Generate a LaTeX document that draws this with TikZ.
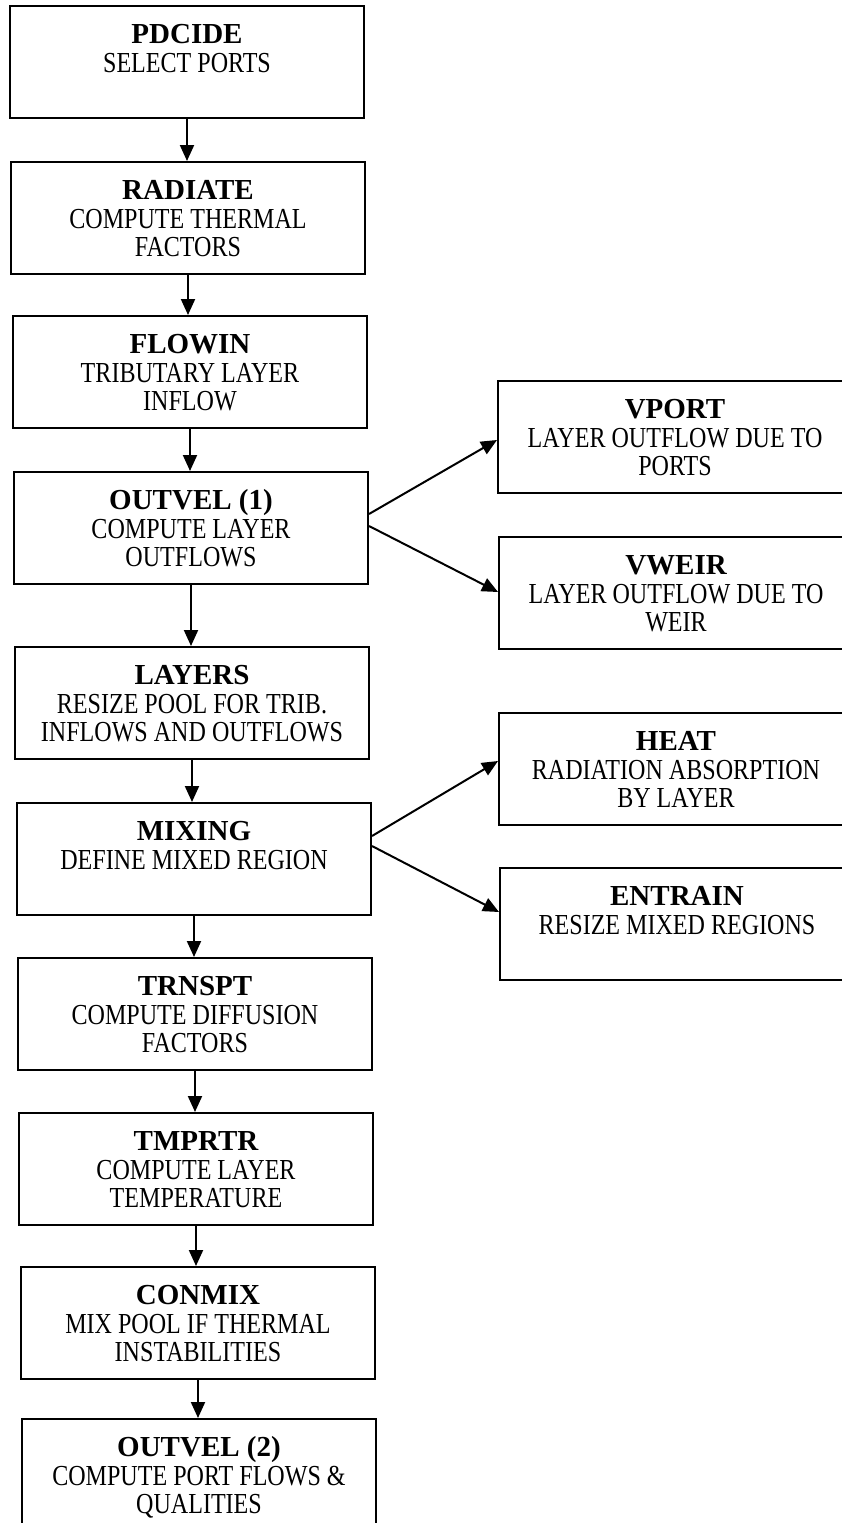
\documentclass[tikz,border=0pt]{standalone}
\usepackage{fontspec}
\setmainfont{Liberation Serif}
\newfontfamily\subfont{Liberation Serif}[FakeStretch=0.83]
\usetikzlibrary{arrows.meta}
\tikzset{
  boxst/.style={draw=black, line width=2pt, fill=white, minimum width=354pt, minimum height=112pt, inner sep=0pt},
  titlest/.style={anchor=base, inner sep=0pt, font=\fontsize{29}{29}\selectfont\bfseries},
  subst/.style={anchor=base, inner sep=0pt, font=\subfont\fontsize{29}{29}\selectfont},
  arr/.style={line width=2pt, -{Triangle[length=16pt,width=14pt]}}
}
\newcommand\pbox[6]{%
  \node[boxst, anchor=north west] (#1) at (#2,#3) {};
  \node[titlest] (#1-t) at ([yshift=-38.5pt]#1.north) {#4};
  \node[subst] (#1-a) at ([yshift=-67pt]#1.north) {#5};
  \node[subst] (#1-b) at ([yshift=-95.5pt]#1.north) {#6};
}
\begin{document}
\begin{tikzpicture}[x=1pt,y=-1pt]
\useasboundingbox (0,0) rectangle (842,1523);
\clip (0,0) rectangle (842,1523);
\fill[white] (0,0) rectangle (842,1523);
% left column
\pbox{pd}{9}{5}{PDCIDE}{SELECT PORTS}{}
\pbox{ra}{10}{161}{RADIATE}{COMPUTE THERMAL}{FACTORS}
\pbox{fl}{12}{315}{FLOWIN}{TRIBUTARY LAYER}{INFLOW}
\pbox{oa}{13}{471}{OUTVEL (1)}{COMPUTE LAYER}{OUTFLOWS}
\pbox{la}{14}{646}{LAYERS}{RESIZE POOL FOR TRIB.}{INFLOWS AND OUTFLOWS}
\pbox{mi}{16}{802}{MIXING}{DEFINE MIXED REGION}{}
\pbox{tr}{17}{957}{TRNSPT}{COMPUTE DIFFUSION}{FACTORS}
\pbox{tm}{18}{1112}{TMPRTR}{COMPUTE LAYER}{TEMPERATURE}
\pbox{co}{20}{1266}{CONMIX}{MIX POOL IF THERMAL}{INSTABILITIES}
\pbox{ob}{21}{1418}{OUTVEL (2)}{COMPUTE PORT FLOWS \&}{QUALITIES}
% right column
\pbox{vp}{497}{380}{VPORT}{LAYER OUTFLOW DUE TO}{PORTS}
\pbox{vw}{498}{536}{VWEIR}{LAYER OUTFLOW DUE TO}{WEIR}
\pbox{he}{498}{712}{HEAT}{RADIATION ABSORPTION}{BY LAYER}
\pbox{en}{499}{867}{ENTRAIN}{RESIZE MIXED REGIONS}{}
% vertical connectors
\draw[arr] (pd.south) -- (pd.south |- ra.north);
\draw[arr] (ra.south) -- (ra.south |- fl.north);
\draw[arr] (fl.south) -- (fl.south |- oa.north);
\draw[arr] (oa.south) -- (oa.south |- la.north);
\draw[arr] (la.south) -- (la.south |- mi.north);
\draw[arr] (mi.south) -- (mi.south |- tr.north);
\draw[arr] (tr.south) -- (tr.south |- tm.north);
\draw[arr] (tm.south) -- (tm.south |- co.north);
\draw[arr] (co.south) -- (co.south |- ob.north);
% side connectors
\draw[arr] ([yshift=14pt]oa.east) -- ([yshift=-3pt]vp.west);
\draw[arr] ([yshift=2pt]oa.east) -- ([yshift=1pt]vw.west);
\draw[arr] ([yshift=23pt]mi.east) -- ([yshift=8pt]he.west);
\draw[arr] ([yshift=13pt]mi.east) -- ([yshift=12pt]en.west);
\end{tikzpicture}
\end{document}
